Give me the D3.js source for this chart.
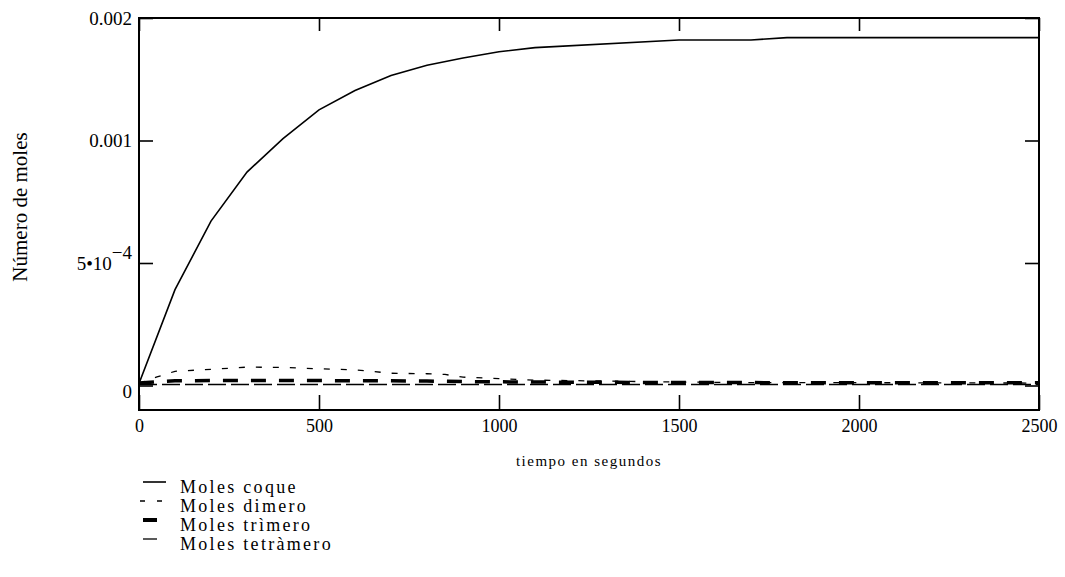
<!DOCTYPE html>
<html>
<head>
<meta charset="utf-8">
<script src="https://cdn.jsdelivr.net/npm/d3@7"></script>
<style>
  body { margin: 0; background: #fff; }
  text { font-family: "Liberation Serif", "Times New Roman", serif; fill: #000; }
</style>
</head>
<body>
<svg id="chart" width="1065" height="577"></svg>
<script>
// time (s) for the coque curve and for the three small curves
var coqueTime = [0, 100, 200, 300, 400, 500, 600, 700, 800, 900, 1000, 1100, 1500, 1700, 1800, 2500];
var coqueMoles = [0.000008, 0.000391, 0.000671, 0.000871, 0.001008, 0.001125, 0.001204, 0.001265,
                  0.001307, 0.001337, 0.001362, 0.001379, 0.00141, 0.00141, 0.00142, 0.00142];

var smallTime = [0, 50, 100, 200, 300, 400, 500, 600, 650, 700, 800, 850, 900, 1000, 1100, 1500, 1700, 1800, 2500];
var dimeroMoles = [0.000008, 0.000035, 0.000058, 0.000066, 0.000075, 0.000074, 0.000068, 0.000064, 0.000057,
                   0.000050, 0.000048, 0.000045, 0.000034, 0.000028, 0.000022, 0.000014, 0.000012, 0.000012, 0.000010];
var trimeroMoles = [0.000010, 0.000015, 0.000019, 0.000020, 0.000020, 0.000020, 0.000020, 0.000019, 0.000019,
                    0.000019, 0.000018, 0.000017, 0.000016, 0.000015, 0.000014, 0.000012, 0.000012, 0.000011, 0.000011];
var tetrameroMoles = [0.000004, 0.000004, 0.000004, 0.000004, 0.000004, 0.000004, 0.000004, 0.000004, 0.000004,
                      0.000004, 0.000004, 0.000004, 0.000004, 0.000004, 0.000004, 0.000004, 0.000004, 0.000004, 0.000004];

var seriesNames = ["Moles coque", "Moles dimero", "Moles trìmero", "Moles tetràmero"];

var xTicks = [0, 500, 1000, 1500, 2000, 2500];
var yTicks = [0, 0.0005, 0.001, 0.0015];
var yTickLabels = ["0", "5\u202210^\u22124", "0.001", "0.002"];

var xTitle = "tiempo en segundos";
var yTitle = "Número de moles";

// line look for each series (same order as seriesNames)
var styles = [
    {width: 1.6, dash: null},
    {width: 1.3, dash: "6,11"},
    {width: 3.5, dash: "15,13"},
    {width: 1.3, dash: "18,5"}
];

var svg = d3.select("#chart");
// note: "top" is taken by window.top, so plot edges get their own names
var plotL = 139, plotR = 1039, plotT = 18, plotB = 410;

var x = d3.scaleLinear().domain([0, 2500]).range([plotL, plotR]);
var y = d3.scaleLinear().domain([-0.0001, 0.0015]).range([plotB, plotT]);

var series = [
    {t: coqueTime, v: coqueMoles},
    {t: smallTime, v: dimeroMoles},
    {t: smallTime, v: trimeroMoles},
    {t: smallTime, v: tetrameroMoles}
];

var line = d3.line()
    .x(function(d){ return x(d[0]); })
    .y(function(d){ return y(d[1]); });

// curves, drawn under the frame
series.forEach(function(s, i){
    var pts = s.t.map(function(t, j){ return [t, s.v[j]]; });
    svg.append("path")
        .attr("d", line(pts))
        .attr("fill", "none")
        .attr("stroke", "#000")
        .attr("stroke-width", styles[i].width)
        .attr("stroke-dasharray", styles[i].dash);
});

// axes: ticks point inward
var gx = svg.append("g").attr("transform", "translate(0," + plotB + ")")
    .call(d3.axisBottom(x).tickValues(xTicks).tickSize(-15).tickPadding(9).tickFormat(d3.format("d")));
svg.append("g").attr("transform", "translate(0," + plotT + ")")
    .call(d3.axisTop(x).tickValues(xTicks).tickSize(-13).tickFormat(""));
var gy = svg.append("g").attr("transform", "translate(" + plotL + ",0)")
    .call(d3.axisLeft(y).tickValues(yTicks).tickSize(-14).tickPadding(7).tickFormat(function(){ return ""; }));
svg.append("g").attr("transform", "translate(" + plotR + ",0)")
    .call(d3.axisRight(y).tickValues(yTicks).tickSize(-14).tickFormat(""));

svg.selectAll(".domain").remove();
svg.selectAll(".tick line").attr("stroke", "#000").attr("stroke-width", 1.6);
gx.selectAll("text").style("font-size", "18px").attr("font-family", null);

// y tick labels, 5•10^-4 needs a superscript
gy.selectAll(".tick text").each(function(d, i){
    var t = d3.select(this).style("font-size", "19px").attr("font-family", null);
    var parts = yTickLabels[i].split("^");
    t.text(parts[0]);
    if (parts.length > 1) {
        t.append("tspan").attr("dy", "-0.55em").text(parts[1]);
    }
    if (d === 0) t.attr("dy", "0.62em");
});

// frame
svg.append("rect")
    .attr("x", plotL).attr("y", plotT)
    .attr("width", plotR - plotL).attr("height", plotB - plotT)
    .attr("fill", "none").attr("stroke", "#000").attr("stroke-width", 2);

// titles
svg.append("text")
    .attr("x", (plotL + plotR) / 2).attr("y", 466)
    .attr("text-anchor", "middle")
    .style("font-size", "15px").style("letter-spacing", "1.5px")
    .text(xTitle);

svg.append("text")
    .attr("transform", "translate(27,207) rotate(-90)")
    .attr("text-anchor", "middle")
    .style("font-size", "21px")
    .text(yTitle);

// legend
var leg = svg.append("g");
seriesNames.forEach(function(name, i){
    var yy = 493 + i * 19;
    var mark = leg.append("line")
        .attr("x1", 143).attr("x2", 166)
        .attr("y1", yy - 11).attr("y2", yy - 11)
        .attr("stroke", "#000")
        .attr("stroke-width", styles[i].width);
    if (i === 1) mark.attr("x1", 140).attr("x2", 162).attr("stroke-dasharray", "5,12");
    if (i === 2) mark.attr("x2", 157).attr("stroke-width", 4);
    if (i === 3) mark.attr("x2", 157);
    leg.append("text")
        .attr("x", 180).attr("y", yy)
        .style("font-size", "18px").style("letter-spacing", "2.3px")
        .text(name);
});
</script>
</body>
</html>
